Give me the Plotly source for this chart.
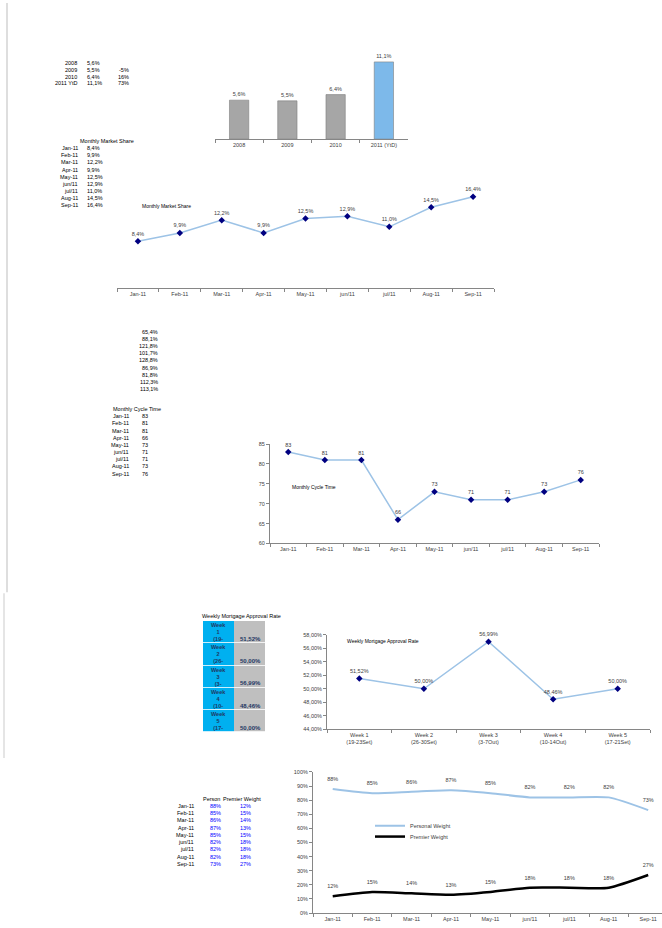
import plotly.graph_objects as go

W, H = 662, 928
def px(x): return x / W
def py(y): return 1 - y / H

# ---------------- data ----------------
years = ["2008", "2009", "2010", "2011 (YtD)"]
years_tbl = ["2008", "2009", "2010", "2011 YtD"]
yearly_share = [5.6, 5.5, 6.4, 11.1]
yearly_growth = ["", "-5%", "16%", "73%"]

months = ["Jan-11", "Feb-11", "Mar-11", "Apr-11", "May-11", "jun/11", "jul/11", "Aug-11", "Sep-11"]
market_share = [8.4, 9.9, 12.2, 9.9, 12.5, 12.9, 11.0, 14.5, 16.4]
ratio_list = ["65,4%", "88,1%", "121,8%", "101,7%", "128,8%", "86,9%", "81,8%", "112,3%", "113,1%"]
cycle_time = [83, 81, 81, 66, 73, 71, 71, 73, 76]

weeks = ["Week 1<br>(19-23Set)", "Week 2<br>(26-30Set)", "Week 3<br>(3-7Out)",
         "Week 4<br>(10-14Out)", "Week 5<br>(17-21Set)"]
week_starts = ["19", "26", "3", "10", "17"]
approval = [51.52, 50.00, 56.99, 48.46, 50.00]

personal = [88, 85, 86, 87, 85, 82, 82, 82, 73]
premier = [12, 15, 14, 13, 15, 18, 18, 18, 27]

def pct1(v): return f"{v:.1f}".replace(".", ",") + "%"
def pct2(v): return f"{v:.2f}".replace(".", ",") + "%"

FONT = "Liberation Sans"
TXT = "#404040"
LINE_BLUE = "#9dc3e6"
NAVY = "#000080"
AX = "#868686"

fig = go.Figure()

# ---- 1. yearly bar chart ----
fig.add_trace(go.Bar(
    x=years, y=yearly_share, xaxis="x", yaxis="y", width=0.4,
    marker=dict(color=["#a6a6a6", "#a6a6a6", "#a6a6a6", "#7db9ea"],
                line=dict(color="#7f7f7f", width=0.6)),
    text=[pct1(v) for v in yearly_share], textposition="outside", cliponaxis=False,
    textfont=dict(size=5.5, color=TXT, family=FONT), showlegend=False))

# ---- 2. monthly market share ----
fig.add_trace(go.Scatter(
    x=months, y=market_share, xaxis="x2", yaxis="y2", mode="lines+markers+text",
    line=dict(color=LINE_BLUE, width=1.5),
    marker=dict(symbol="diamond", size=5, color=NAVY),
    text=[pct1(v) for v in market_share], textposition="top center", cliponaxis=False,
    textfont=dict(size=5.5, color=TXT, family=FONT), showlegend=False))

# ---- 3. monthly cycle time ----
fig.add_trace(go.Scatter(
    x=months, y=cycle_time, xaxis="x3", yaxis="y3", mode="lines+markers+text",
    line=dict(color=LINE_BLUE, width=1.5),
    marker=dict(symbol="diamond", size=5, color=NAVY),
    text=[str(v) for v in cycle_time], textposition="top center", cliponaxis=False,
    textfont=dict(size=5.5, color=TXT, family=FONT), showlegend=False))

# ---- 4. weekly table (heatmap cells) ----
fig.add_trace(go.Heatmap(
    z=[[0, 1] for _ in approval], x=[0, 1], y=list(range(len(approval))),
    xaxis="x4", yaxis="y4", colorscale=[[0, "#00b0f0"], [1, "#bfbfbf"]],
    showscale=False, ygap=0.8, hoverinfo="skip"))

# ---- 5. weekly approval chart ----
fig.add_trace(go.Scatter(
    x=weeks, y=approval, xaxis="x5", yaxis="y5", mode="lines+markers+text",
    line=dict(color=LINE_BLUE, width=1.5),
    marker=dict(symbol="diamond", size=5, color=NAVY),
    text=[pct2(v) for v in approval], textposition="top center", cliponaxis=False,
    textfont=dict(size=5.5, color=TXT, family=FONT), showlegend=False))

# ---- 6. personal / premier weight ----
fig.add_trace(go.Scatter(
    x=months, y=personal, xaxis="x6", yaxis="y6", mode="lines+markers+text",
    name="Personal Weight", legend="legend",
    line=dict(color=LINE_BLUE, width=2, shape="spline", smoothing=0.6),
    marker=dict(size=9, color="rgba(0,0,0,0)"),
    text=[f"{v}%" for v in personal], textposition="top center", cliponaxis=False,
    textfont=dict(size=5.5, color=TXT, family=FONT)))
fig.add_trace(go.Scatter(
    x=months, y=premier, xaxis="x6", yaxis="y6", mode="lines+markers+text",
    name="Premier Weight", legend="legend2",
    line=dict(color="#000000", width=2.5, shape="spline", smoothing=0.6),
    marker=dict(size=9, color="rgba(0,0,0,0)"),
    text=[f"{v}%" for v in premier], textposition="top center", cliponaxis=False,
    textfont=dict(size=5.5, color=TXT, family=FONT)))

tickfont = dict(size=5.5, color=TXT, family=FONT)

def cat_x(x0, x1, y_anchor, rng=None):
    d = dict(domain=[px(x0), px(x1)], anchor=y_anchor, type="category",
             showline=True, linecolor=AX, linewidth=1, ticks="outside", tickson="boundaries",
             ticklen=3, tickcolor=AX, tickfont=tickfont, showgrid=False, zeroline=False,
             fixedrange=True)
    if rng is not None:
        d["range"] = rng
    return d

annotations = []
def txt(x, y, s, anchor="left", size=5.5, color="#000000", bold=False, ref=("paper", "paper")):
    if bold:
        s = f"<b>{s}</b>"
    annotations.append(dict(
        x=x if ref[0] != "paper" else px(x), y=y if ref[1] != "paper" else py(y),
        xref=ref[0], yref=ref[1], text=s, showarrow=False, xanchor=anchor, yanchor="middle",
        font=dict(size=size, color=color, family=FONT)))

# top-left yearly table
for i, (lab, v, g) in enumerate(zip(years_tbl, yearly_share, yearly_growth)):
    yy = 60 + i * 7
    txt(79, yy, lab, "right")
    txt(85, yy, pct1(v))
    if g:
        txt(131, yy, g, "right")

# monthly market share table
txt(78, 139, "Monthly Market Share")
for i, (m, v) in enumerate(zip(months, market_share)):
    yy = 146 + i * 7.2
    txt(80, yy, m, "right")
    txt(85, yy, pct1(v))

# ratio list
for i, r in enumerate(ratio_list):
    txt(160, 331 + i * 7.2, r, "right")

# monthly cycle time table
txt(111, 409, "Monthly Cycle Time")
for i, (m, v) in enumerate(zip(months, cycle_time)):
    yy = 416 + i * 7.2
    txt(131, yy, m, "right")
    txt(140, yy, str(v))

# chart titles
txt(140, 204, "Monthly Market Share", size=5)
txt(290, 487, "Monthly Cycle Time", size=5)
txt(345, 642, "Weekly Mortgage Approval Rate", size=5)

# weekly table text
txt(200, 617, "Weekly Mortgage Approval Rate")
for i, (s, v) in enumerate(zip(week_starts, approval)):
    txt(0, i, f"Week<br>{i+1}<br>({s}-", "center", size=5.5, color="#1f3864", bold=True,
        ref=("x4", "y4"))
    txt(1.45, i + 0.3, pct2(v), "right", size=6, color="#1f3864", bold=True, ref=("x4", "y4"))

# person / premier table
txt(201, 801, "Person")
txt(221, 801, "Premier Weight")
for i, (m, a, b) in enumerate(zip(months, personal, premier)):
    yy = 808 + i * 7.3
    txt(196, yy, m, "right")
    txt(215, yy, f"{a}%", "center", color="#0000ff")
    txt(245, yy, f"{b}%", "center", color="#0000ff")

shapes = [
    dict(type="line", xref="paper", yref="paper", x0=px(7), x1=px(7), y0=py(0), y1=py(593),
         line=dict(color="#c8c8c8", width=1.2)),
    dict(type="line", xref="paper", yref="paper", x0=px(4), x1=px(4), y0=py(594), y1=py(760),
         line=dict(color="#d4d4d4", width=1.2)),
]

legend_common = dict(xanchor="left", yanchor="middle",
                     font=dict(size=5.5, color=TXT, family=FONT), bgcolor="rgba(0,0,0,0)",
                     itemwidth=30)

fig.update_layout(
    width=W, height=H, autosize=False, margin=dict(l=0, r=0, t=0, b=0),
    paper_bgcolor="white", plot_bgcolor="rgba(0,0,0,0)",
    font=dict(family=FONT, size=5.5, color=TXT),
    showlegend=True,
    legend=dict(x=px(370), y=py(828), **legend_common),
    legend2=dict(x=px(370), y=py(839), **legend_common),
    annotations=annotations, shapes=shapes,
    xaxis=cat_x(215, 408, "y", [-0.5, 3.5]),
    yaxis=dict(domain=[py(137), py(49.5)], anchor="x", range=[0, 12.5], visible=False,
               fixedrange=True),
    xaxis2=cat_x(117, 494, "y2", [-0.5, 8.5]),
    yaxis2=dict(domain=[py(287), py(186)], anchor="x2", range=[0, 18], visible=False),
    xaxis3=cat_x(270, 599, "y3", [-0.5, 8.5]),
    yaxis3=dict(domain=[py(544), py(444)], anchor="x3", range=[60, 85],
                tickvals=[60, 65, 70, 75, 80, 85], showline=True, linecolor=AX, ticks="outside",
                ticklen=3, tickcolor=AX, tickfont=tickfont, showgrid=False, zeroline=False),
    xaxis4=dict(domain=[px(203), px(265)], anchor="y4", range=[-0.5, 1.5], visible=False),
    yaxis4=dict(domain=[py(734), py(622)], anchor="x4", range=[4.5, -0.5], visible=False),
    xaxis5=cat_x(327, 650, "y5", [-0.5, 4.5]),
    yaxis5=dict(domain=[py(731), py(636)], anchor="x5", range=[44, 58],
                tickvals=list(range(44, 59, 2)),
                ticktext=[f"{v},00%" for v in range(44, 59, 2)],
                showline=True, linecolor=AX, ticks="outside", ticklen=3, tickcolor=AX,
                tickfont=tickfont, showgrid=False, zeroline=False),
    xaxis6=cat_x(313, 662, "y6", [-0.5, 8.35]),
    yaxis6=dict(domain=[py(916), py(774)], anchor="x6", range=[0, 100],
                tickvals=list(range(0, 101, 10)),
                ticktext=[f"{v}%" for v in range(0, 101, 10)],
                showline=True, linecolor=AX, ticks="outside", ticklen=3, tickcolor=AX,
                tickfont=tickfont, showgrid=False, zeroline=False),
)

fig.write_html("out.html")
